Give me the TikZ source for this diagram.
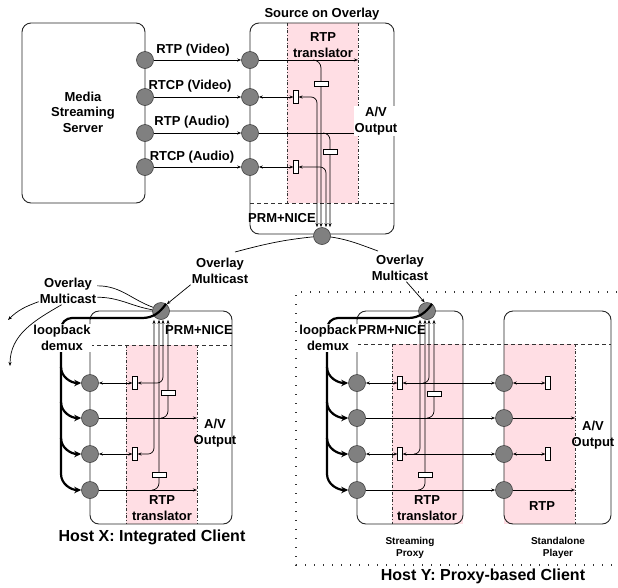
\documentclass[tikz,border=0pt]{standalone}
\usepackage{fontspec}
\setmainfont{Liberation Sans}
\usepackage{tikz}
\usetikzlibrary{arrows.meta}
\newcommand{\lblfont}{\fontsize{13}{15.5}\selectfont\bfseries}
\newcommand{\hostfont}{\fontsize{16}{18}\selectfont\bfseries}
\newcommand{\notefont}{\fontsize{10}{12.5}\selectfont\bfseries}
\definecolor{lpink}{RGB}{255,222,228}
\pgfdeclarelayer{zonelayer}
\pgfdeclarelayer{edgelayer}
\pgfdeclarelayer{nodelayer}
\pgfsetlayers{zonelayer,edgelayer,nodelayer,main}
\tikzstyle{port}=[circle,fill=gray,draw=black!75,line width=0.6pt,minimum size=17pt,inner sep=0pt]
\tikzstyle{vbuf}=[rectangle,fill=white,draw=black,line width=0.6pt,minimum width=4.5pt,minimum height=13pt,inner sep=0pt]
\tikzstyle{hbuf}=[rectangle,fill=white,draw=black,line width=0.6pt,minimum width=14pt,minimum height=5pt,inner sep=0pt]
\tikzstyle{box}=[draw=black!85,rounded corners=9pt,line width=0.9pt]
\tikzstyle{zone}=[fill=lpink,draw=none]
\tikzstyle{zoneedge}=[dash dot,draw=black!80,line width=0.8pt]
\tikzstyle{sep}=[draw=black!80,line width=0.8pt,dash pattern=on 4pt off 3pt]
\tikzstyle{hostedge}=[draw=black!80,line width=1.3pt,dash pattern=on 1.3pt off 7.7pt]
\tikzstyle{txt}=[font=\lblfont,align=center,inner sep=1pt]
\tikzstyle{covertxt}=[txt,fill=white]
\tikzstyle{hosttxt}=[font=\hostfont,inner sep=1pt]
\tikzstyle{notetxt}=[font=\notefont,align=center,inner sep=1pt]
\tikzstyle{plain}=[-,line width=0.7pt]
\tikzstyle{flow}=[->,>={Stealth[length=4pt,width=3pt]},line width=0.7pt]
\tikzstyle{twoway}=[<->,>={Stealth[length=4pt,width=3pt]},line width=0.7pt]
\tikzstyle{demuxline}=[-,line width=2.2pt]
\tikzstyle{demux}=[-{Stealth[length=7pt,width=6.5pt]},line width=2.2pt]

\begin{document}
\begin{tikzpicture}[x=1pt,y=-1pt]
	\useasboundingbox (0,0) rectangle (618,587);
	\begin{pgfonlayer}{nodelayer}
		\node [style=port] (sv1) at (145,60) {};
		\node [style=port] (sv2) at (145,97) {};
		\node [style=port] (sv3) at (145,133) {};
		\node [style=port] (sv4) at (145,167) {};

		\node [style=port] (so1) at (250,60) {};
		\node [style=port] (so2) at (250,97) {};
		\node [style=port] (so3) at (250,133) {};
		\node [style=port] (so4) at (250,167) {};
		\node [style=vbuf] (sb2) at (296,97) {};
		\node [style=vbuf] (sb4) at (296,167) {};
		\node [style=hbuf] (sq1) at (321,84) {};
		\node [style=hbuf] (sq3) at (330,152) {};
		\node [style=port] (on) at (322,236) {};

		\node [style=port] (xn) at (161,311) {};
		\node [style=port] (x1) at (90,383) {};
		\node [style=port] (x2) at (90,418) {};
		\node [style=port] (x3) at (90,454) {};
		\node [style=port] (x4) at (90,490) {};
		\node [style=vbuf] (xb1) at (135,383) {};
		\node [style=vbuf] (xb3) at (135,454) {};
		\node [style=hbuf] (xq2) at (168,393) {};
		\node [style=hbuf] (xq4) at (159,475) {};

		\node [style=port] (yn) at (427,311) {};
		\node [style=port] (y1) at (357,383) {};
		\node [style=port] (y2) at (357,418) {};
		\node [style=port] (y3) at (357,454) {};
		\node [style=port] (y4) at (357,490) {};
		\node [style=vbuf] (yb1) at (400,383) {};
		\node [style=vbuf] (yb3) at (400,454) {};
		\node [style=hbuf] (yq2) at (434,394) {};
		\node [style=hbuf] (yq4) at (425,475) {};

		\node [style=port] (p1) at (504,383) {};
		\node [style=port] (p2) at (504,418) {};
		\node [style=port] (p3) at (504,454) {};
		\node [style=port] (p4) at (504,490) {};
		\node [style=vbuf] (pb1) at (548,383) {};
		\node [style=vbuf] (pb3) at (548,454) {};

		\coordinate (sz) at (358,0);
		\coordinate (xz) at (197,0);
		\coordinate (pz) at (575,0);
		\coordinate (tl) at (235,252);
		\coordinate (tr) at (378,251);
		\coordinate (aw1) at (8,320);
		\coordinate (aw2) at (10,366);
	\end{pgfonlayer}
	\begin{pgfonlayer}{zonelayer}
		\fill [style=zone] (287,23) rectangle (358,203);
		\draw [style=zoneedge] (287,23) -- (287,203);
		\draw [style=zoneedge] (358,23) -- (358,203);
		\fill [style=zone] (126,345) rectangle (197,524);
		\draw [style=zoneedge] (126,345) -- (126,524);
		\draw [style=zoneedge] (197,345) -- (197,524);
		\fill [style=zone] (392,344) rectangle (463,524);
		\draw [style=zoneedge] (392,344) -- (392,524);
		\fill [style=zone] (504,344) rectangle (575,524);
		\draw [style=zoneedge] (575,344) -- (575,524);
	\end{pgfonlayer}
	\begin{pgfonlayer}{edgelayer}
		\draw [style=box] (22,23) rectangle (145,203);
		\draw [style=box] (250,23) rectangle (394,234);
		\draw [style=sep] (250,203) -- (394,203);
		\draw [style=flow] (sv1) -- (so1);
		\draw [style=flow] (sv2) -- (so2);
		\draw [style=flow] (sv3) -- (so3);
		\draw [style=flow] (sv4) -- (so4);
		\draw [style=flow] (so1) -- (so1 -| sz);
		\draw [style=flow] (313,60) to[out=0,in=90] (321,68) -- (321,0 |- on.north);
		\draw [style=twoway] (so2) -- (sb2);
		\draw [style=twoway] (sb2) -- (311,97) to[out=0,in=90] (317,103) -- (317,0 |- on.north);
		\draw [style=flow] (so3) -- (so3 -| sz);
		\draw [style=flow] (323,133) to[out=0,in=90] (330,140) -- (330,0 |- on.north);
		\draw [style=twoway] (so4) -- (sb4);
		\draw [style=twoway] (sb4) -- (320,167) to[out=0,in=90] (326,173) -- (326,0 |- on.north);

		\draw [style=plain] (tl) to[out=15,in=185] (on.center) to[out=-5,in=160] (tr);

		\draw [style=box] (90,311) rectangle (232,524);
		\draw [style=sep] (90,345) -- (232,345);
		\draw [style=twoway] (x1) -- (xb1);
		\draw [style=twoway] (xb1) -- (157,383) to[out=0,in=-90] (163,377) -- (163,0 |- xn.south);
		\draw [style=flow] (x2) -- (x2 -| xz);
		\draw [style=flow] (161,418) to[out=0,in=-90] (168,411) -- (168,0 |- xn.south);
		\draw [style=twoway] (x3) -- (xb3);
		\draw [style=twoway] (xb3) -- (148,454) to[out=0,in=-90] (154,448) -- (154,0 |- xn.south);
		\draw [style=flow] (x4) -- (x4 -| xz);
		\draw [style=flow] (152,490) to[out=0,in=-90] (159,483) -- (159,0 |- xn.south);

		\draw [style=hostedge] (617,292) -- (296,292) -- (296,565) -- (617,565);
		\draw [style=box] (357,311) rectangle (463,524);
		\draw [style=box] (504,311) rectangle (611,524);
		\draw [style=sep] (357,344) -- (611,344);
		\draw [style=twoway] (y1) -- (yb1);
		\draw [style=twoway] (yb1) -- (p1);
		\draw [style=flow] (423,383) to[out=0,in=-90] (429,377) -- (429,0 |- yn.south);
		\draw [style=flow] (y2) -- (p2);
		\draw [style=flow] (427,418) to[out=0,in=-90] (434,411) -- (434,0 |- yn.south);
		\draw [style=twoway] (y3) -- (yb3);
		\draw [style=twoway] (yb3) -- (p3);
		\draw [style=flow] (414,454) to[out=0,in=-90] (420,448) -- (420,0 |- yn.south);
		\draw [style=flow] (y4) -- (p4);
		\draw [style=flow] (418,490) to[out=0,in=-90] (425,483) -- (425,0 |- yn.south);
		\draw [style=twoway] (p1) -- (pb1);
		\draw [style=flow] (p2) -- (p2 -| pz);
		\draw [style=twoway] (p3) -- (pb3);
		\draw [style=flow] (p4) -- (p4 -| pz);
	\end{pgfonlayer}

	\draw [style=demuxline] (xn.55) to[out=235,in=0] (142,318) -- (72,318) to[out=180,in=90] (61,329) -- (61,474);
	\draw [style=demux] (61,367) to[out=-90,in=180] (x1);
	\draw [style=demux] (61,402) to[out=-90,in=180] (x2);
	\draw [style=demux] (61,438) to[out=-90,in=180] (x3);
	\draw [style=demux] (61,474) to[out=-90,in=180] (x4);
	\draw [style=demuxline] (yn.55) to[out=235,in=0] (408,318) -- (338,318) to[out=180,in=90] (327,329) -- (327,474);
	\draw [style=demux] (327,367) to[out=-90,in=180] (y1);
	\draw [style=demux] (327,402) to[out=-90,in=180] (y2);
	\draw [style=demux] (327,438) to[out=-90,in=180] (y3);
	\draw [style=demux] (327,474) to[out=-90,in=180] (y4);

	\node [style=txt] (server) at (83,112) {Media\\Streaming\\Server};
	\node [style=txt] (lrtpv) at (193,50) {RTP (Video)};
	\node [style=txt] (lrtcpv) at (190,86) {RTCP (Video)};
	\node [style=txt] (lrtpa) at (192,122) {RTP (Audio)};
	\node [style=txt] (lrtcpa) at (192,157) {RTCP (Audio)};
	\node [style=txt] (source) at (322,14) {Source on Overlay};
	\node [style=txt] (str) at (323,45) {RTP\\translator};
	\node [style=covertxt] (sav) at (376,121) {A/V\\Output};
	\node [style=txt] (sprm) at (282,218) {PRM+NICE};

	\node [style=txt] (om0) at (220,271) {Overlay\\Multicast};
	\node [style=txt] (om1) at (400,268) {Overlay\\Multicast};
	\node [style=txt] (om2) at (68,291) {Overlay\\Multicast};
	\draw [style=flow] (om0.south west) -- (xn.50);
	\draw [style=flow] (om1.-65) -- (yn.105);
	\draw [style=plain] (om2.10) to[out=0,in=160] (xn.155);
	\draw [style=plain] (om2.-12) to[out=0,in=170] (xn.172);
	\draw [style=flow] (om2.-160) to[out=200,in=45] (aw1);
	\draw [style=flow] (om2.-115) to[out=210,in=90] (aw2);

	\node [style=txt] (xprm) at (199,330) {PRM+NICE};
	\node [style=covertxt] (xlb) at (62,338) {loopback\\demux};
	\node [style=txt] (xav) at (215,433) {A/V\\Output};
	\node [style=txt] (xtr) at (162,508) {RTP\\translator};
	\node [style=hosttxt] (hostx) at (152,537) {Host X: Integrated Client};

	\node [style=txt] (yprm) at (392,330) {PRM+NICE};
	\node [style=covertxt] (ylb) at (328,338) {loopback\\demux};
	\node [style=txt] (pav) at (593,435) {A/V\\Output};
	\node [style=txt] (ytr) at (427,508) {RTP\\translator};
	\node [style=txt] (prtp) at (542,506) {RTP};
	\node [style=notetxt] (proxy) at (410,548) {Streaming\\Proxy};
	\node [style=notetxt] (player) at (558,548) {Standalone\\Player};
	\node [style=hosttxt] (hosty) at (483,576) {Host Y: Proxy-based Client};
\end{tikzpicture}
\end{document}
